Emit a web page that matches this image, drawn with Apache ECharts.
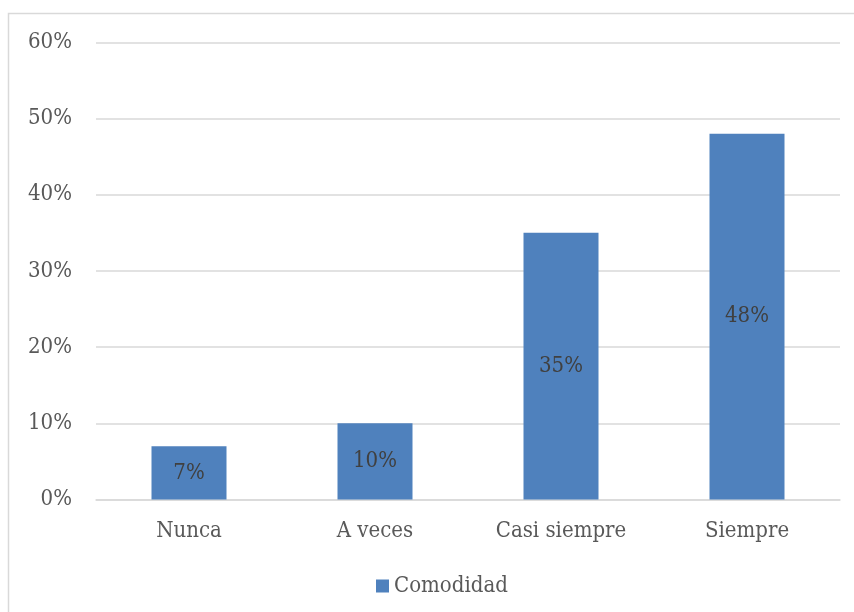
<!DOCTYPE html>
<html>
<head>
<meta charset="utf-8">
<script src="https://cdn.jsdelivr.net/npm/echarts@6/dist/echarts.min.js"></script>
<style>
  html, body { margin: 0; padding: 0; background: #ffffff; }
  #chart { width: 854px; height: 612px; }
</style>
</head>
<body>
<div id="chart"></div>
<script>
// Survey responses for "Comodidad"
const categories = ['Nunca', 'A veces', 'Casi siempre', 'Siempre'];
const seriesName = 'Comodidad';
const values = [7, 10, 35, 48];
const yTickMax = 60;
const yTickStep = 10;

const FONT = '"DejaVu Serif Condensed", "Liberation Serif", serif';
const FS = 22;

const chart = echarts.init(document.getElementById('chart'), null, { renderer: 'canvas' });

chart.setOption({
  animation: false,
  backgroundColor: '#ffffff',
  textStyle: { fontFamily: FONT },
  graphic: [{
    type: 'rect',
    silent: true,
    shape: { x: 8.5, y: 13.5, width: 900, height: 700 },
    style: { fill: 'none', stroke: '#d9d9d9', lineWidth: 1.5 }
  }],
  grid: { left: 96, right: 14, top: 42.3, bottom: 112.5, containLabel: false },
  legend: {
    data: [seriesName],
    left: 371,
    top: 570,
    icon: 'rect',
    itemWidth: 13,
    itemHeight: 13,
    itemGap: 6,
    textStyle: { fontFamily: FONT, fontSize: FS, color: '#595959' }
  },
  xAxis: {
    type: 'category',
    data: categories,
    axisLine: { show: true, lineStyle: { color: '#d9d9d9', width: 1.5 } },
    axisTick: { show: false },
    axisLabel: { fontFamily: FONT, fontSize: FS, color: '#595959', margin: 21 }
  },
  yAxis: {
    type: 'value',
    min: 0,
    max: yTickMax,
    interval: yTickStep,
    axisLine: { show: false },
    axisTick: { show: false },
    splitLine: { lineStyle: { color: '#d9d9d9', width: 1.5 } },
    axisLabel: {
      fontFamily: FONT, fontSize: FS, color: '#595959', margin: 24,
      formatter: v => v + '%'
    }
  },
  series: [{
    name: seriesName,
    type: 'bar',
    data: values,
    barWidth: 75,
    itemStyle: { color: '#4f81bd' },
    label: {
      show: true,
      position: 'inside',
      fontFamily: FONT,
      fontSize: FS,
      color: '#404040',
      formatter: p => p.value + '%'
    }
  }]
});
</script>
</body>
</html>
